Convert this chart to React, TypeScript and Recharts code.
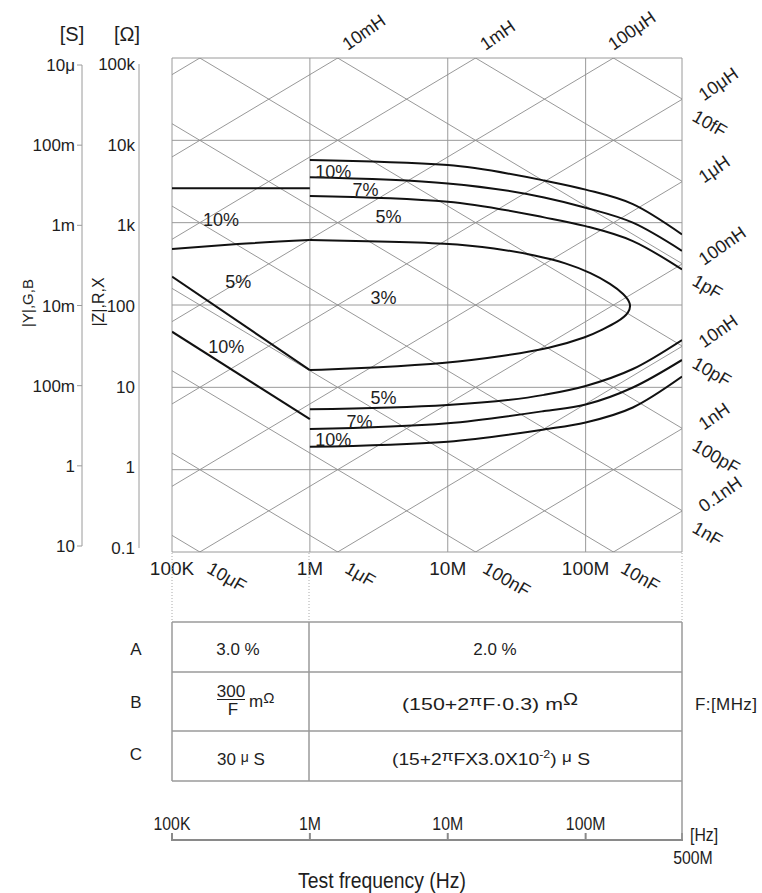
import React from "react";
import {
  ComposedChart,
  LineChart,
  Line,
  XAxis,
  YAxis,
  CartesianGrid,
  ReferenceDot,
} from "recharts";

// ---- axes ----
const freqTicks = [1e5, 1e6, 1e7, 1e8, 5e8];
const freqTickLabels = ["100K", "1M", "10M", "100M", ""];
const ohmTicks = [0.1, 1, 10, 100, 1e3, 1e4, 1e5];
const ohmTickLabels = ["0.1", "1", "10", "100", "1k", "10k", "100k"];
const siemensTickLabels = ["10", "1", "100m", "10m", "1m", "100m", "10\u03bc"];

// ---- L / C guide lines ----
const inductances = [1e-10, 1e-9, 1e-8, 1e-7, 1e-6, 1e-5, 1e-4, 1e-3, 1e-2, 1e-1];
const capacitances = [1e-14, 1e-13, 1e-12, 1e-11, 1e-10, 1e-9, 1e-8, 1e-7, 1e-6, 1e-5];
const topInductorValues = [1e-2, 1e-3, 1e-4];
const topInductorLabels = ["10mH", "1mH", "100\u03bcH"];
const rightInductorValues = [1e-5, 1e-6, 1e-7, 1e-8, 1e-9, 1e-10];
const rightInductorLabels = ["10\u03bcH", "1\u03bcH", "100nH", "10nH", "1nH", "0.1nH"];
const rightCapacitorValues = [1e-14, 1e-12, 1e-11, 1e-10, 1e-9];
const rightCapacitorLabels = ["10fF", "1pF", "10pF", "100pF", "1nF"];
const bottomCapacitorValues = [1e-5, 1e-6, 1e-7, 1e-8];
const bottomCapacitorLabels = ["10\u03bcF", "1\u03bcF", "100nF", "10nF"];

// ---- accuracy contours ----
const rightFreqs = [1e6, 1e7, 5e7, 1e8, 2.2e8, 5e8];
const upper10 = [5770, 5000, 3250, 2520, 1680, 720];
const upper7 = [3560, 3000, 2020, 1520, 1000, 455];
const upper5 = [2110, 1800, 1160, 908, 598, 270];
const lower5 = [5.4, 6.1, 8.1, 10.4, 16.7, 37.6];
const lower7 = [3.12, 3.66, 5.15, 6.18, 9.95, 21.5];
const lower10 = [1.9, 2.19, 3.08, 3.74, 5.69, 13.5];

const loop3F = [1e6, 3.15e6, 1e7, 2.2e7, 4.4e7, 7.2e7, 1.1e8, 1.53e8, 1.9e8, 2.14e8, 2.07e8, 1.72e8, 1.3e8, 1.04e8, 5.6e7, 2.4e7, 1e7, 3.15e6, 1e6];
const loop3Z = [615, 590, 561, 492, 399, 324, 245, 180, 136, 104, 80, 62.7, 49.7, 41.2, 29.8, 23.7, 19.6, 17.4, 16.2];

const leftTop10F = [1e5, 1e6];
const leftTop10Z = [2610, 2610];
const leftTop5F = [1e5, 3e5, 1e6];
const leftTop5Z = [480, 550, 615];
const leftLow5F = [1e5, 1e6];
const leftLow5Z = [221, 16.2];
const leftLow10F = [1e5, 1e6];
const leftLow10Z = [47.4, 4.1];

// ---- region labels ----
const pctText = ["10%", "7%", "5%", "10%", "5%", "10%", "3%", "5%", "7%", "10%"];
const pctF = [1.48e6, 2.53e6, 3.72e6, 2.27e5, 3.02e5, 2.47e5, 3.42e6, 3.42e6, 2.29e6, 1.48e6];
const pctZ = [4120, 2490, 1170, 1080, 190, 30.9, 122, 7.4, 3.79, 2.29];

const F_MIN = 1e5;
const F_MAX = 5e8;
const Z_MIN = 0.1;
const Z_MAX = 1e5;
const TWO_PI = 2 * Math.PI;

const FONT = "'Liberation Sans', Arial, sans-serif";
const INK = "#1e1e1e";
const GRID = "#9a9a9a";

const pts = (fs: number[], zs: number[]) => fs.map((f, i) => ({ f, z: zs[i] }));
const ohmRows = ohmTicks.map((z) => ({ f: F_MIN, z }));
const freqRows = freqTicks.map((f) => ({ f, z: 1 }));

const inductorGuides = inductances.map((L) => [
  { f: F_MIN, z: TWO_PI * F_MIN * L },
  { f: F_MAX, z: TWO_PI * F_MAX * L },
]);
const capacitorGuides = capacitances.map((C) => [
  { f: F_MIN, z: 1 / (TWO_PI * F_MIN * C) },
  { f: F_MAX, z: 1 / (TWO_PI * F_MAX * C) },
]);

const contours: { data: { f: number; z: number }[]; type: any }[] = [
  { data: pts(rightFreqs, upper10), type: "monotone" },
  { data: pts(rightFreqs, upper7), type: "monotone" },
  { data: pts(rightFreqs, upper5), type: "monotone" },
  { data: pts(rightFreqs, lower5), type: "monotone" },
  { data: pts(rightFreqs, lower7), type: "monotone" },
  { data: pts(rightFreqs, lower10), type: "monotone" },
  { data: pts(loop3F, loop3Z), type: "basis" },
  { data: pts(leftTop10F, leftTop10Z), type: "linear" },
  { data: pts(leftTop5F, leftTop5Z), type: "monotone" },
  { data: pts(leftLow5F, leftLow5Z), type: "linear" },
  { data: pts(leftLow10F, leftLow10Z), type: "linear" },
];

const edgeLabel = (text: string, dx: number, dy: number, angle: number) => (p: any) => {
  const x = p.cx + dx;
  const y = p.cy + dy;
  return (
    <text x={x} y={y} transform={`rotate(${angle} ${x} ${y})`} fontSize={18} fontFamily={FONT} fill={INK} textAnchor="start">
      {text}
    </text>
  );
};

const centerLabel = (text: string) => (p: any) => (
  <text x={p.cx} y={p.cy} fontSize={18} fontFamily={FONT} fill={INK} textAnchor="middle" dominantBaseline="central">
    {text}
  </text>
);

// tick of the lower frequency scale: short mark pointing up + condensed label
const ScaleTick = (p: any) => {
  const label = freqTickLabels[freqTicks.indexOf(p.payload.value)];
  return (
    <g>
      <line x1={p.x} x2={p.x} y1={p.y + 3} y2={p.y + 10} stroke="#8a8a8a" strokeWidth={2} />
      <g transform={`translate(${p.x},${p.y}) scale(0.88,1)`}>
        <text x={0} y={0} textAnchor="middle" fontSize={18} fontFamily={FONT} fill={INK}>
          {label}
        </text>
      </g>
    </g>
  );
};

const Narrow = ({ x, y, size, anchor = "middle", children }: any) => (
  <g transform={`translate(${x},${y}) scale(0.88,1)`}>
    <text x={0} y={0} textAnchor={anchor} fontSize={size} fontFamily={FONT} fill={INK}>
      {children}
    </text>
  </g>
);

function Overlay() {
  const t = { fontFamily: FONT, fill: INK } as const;
  return (
    <svg width={762} height={893} style={{ position: "absolute", left: 0, top: 0, pointerEvents: "none" }}>
      {/* axis titles */}
      <text x={72} y={34} fontSize={20} textAnchor="middle" dominantBaseline="central" {...t}>[S]</text>
      <text x={127} y={34} fontSize={20} textAnchor="middle" dominantBaseline="central" {...t}>[Ω]</text>
      <text x={27} y={303} fontSize={15} textAnchor="middle" dominantBaseline="central" transform="rotate(-90 27 303)" {...t}>|Y|,G,B</text>
      <text x={98} y={302} fontSize={16} textAnchor="middle" dominantBaseline="central" transform="rotate(-90 98 302)" {...t}>|Z|,R,X</text>

      {/* dotted connectors */}
      {[172, 309, 682].map((x) => (
        <line key={x} x1={x} x2={x} y1={553} y2={621} stroke="#aaa" strokeDasharray="1 2" />
      ))}

      {/* table */}
      <g stroke={GRID} strokeWidth={1.5}>
        {[622, 672, 731, 781].map((y) => (
          <line key={y} x1={172} x2={682} y1={y} y2={y} />
        ))}
        <line x1={172} x2={172} y1={622} y2={781} />
        <line x1={309} x2={309} y1={622} y2={781} />
        <line x1={682} x2={682} y1={622} y2={841} />
      </g>
      {/* baseline of the lower frequency scale */}
      <rect x={171} y={839} width={512} height={2} fill="#8a8a8a" />
      <g fontSize={17} textAnchor="middle" dominantBaseline="central" {...t}>
        <text x={136} y={649}>A</text>
        <text x={136} y={702}>B</text>
        <text x={136} y={754}>C</text>
        <text x={238} y={649}>3.0 %</text>
        <text x={495} y={649}>2.0 %</text>
        <text x={231} y={691}>300</text>
        <text x={233} y={709}>F</text>
        <text x={726} y={704} textLength={62}>F:[MHz]</text>
      </g>
      <line x1={217} x2={245} y1={699.5} y2={699.5} stroke={INK} strokeWidth={1} />
      <text x={249} y={707} fontSize={17} {...t}>
        m<tspan fontSize={15} dy={-4}>Ω</tspan>
      </text>
      <text x={217} y={765} fontSize={17} {...t}>
        30 <tspan fontSize={14} dy={-3}>μ</tspan><tspan dy={3}> S</tspan>
      </text>
      <text x={402} y={710} fontSize={17} textLength={176} lengthAdjust="spacingAndGlyphs" {...t}>
        (150+2<tspan fontSize={15} dy={-4}>π</tspan><tspan dy={4}>F·0.3) m</tspan><tspan fontSize={16} dy={-5}>Ω</tspan>
      </text>
      <text x={392} y={765} fontSize={17} textLength={198} lengthAdjust="spacingAndGlyphs" {...t}>
        (15+2<tspan fontSize={15} dy={-4}>π</tspan><tspan dy={4}>FX3.0X10</tspan><tspan fontSize={11} dy={-7}>-2</tspan><tspan dy={7}>) </tspan><tspan fontSize={15} dy={-3}>μ</tspan><tspan dy={3}> S</tspan>
      </text>

      {/* bottom axis extras */}
      <Narrow x={690} y={841} size={18} anchor="start">[Hz]</Narrow>
      <Narrow x={693} y={864} size={18}>500M</Narrow>
      <Narrow x={382} y={888} size={22}>Test frequency (Hz)</Narrow>
    </svg>
  );
}

export default function App() {
  return (
    <div style={{ position: "absolute", left: 0, top: 0, width: 762, height: 893, background: "#fff" }}>
      {/* [S] axis */}
      <div style={{ position: "absolute", left: 0, top: 0 }}>
        <LineChart width={85} height={600} data={ohmRows} margin={{ top: 65, right: 1, bottom: 54, left: 0 }}>
          <XAxis hide dataKey="f" type="number" scale="log" domain={[F_MIN, F_MAX]} />
          <YAxis
            dataKey="z"
            type="number"
            scale="log"
            domain={[Z_MIN, Z_MAX]}
            ticks={ohmTicks}
            interval={0}
            width={82}
            stroke={GRID}
            tickSize={5}
            tickMargin={2}
            tickFormatter={(v: number) => siemensTickLabels[ohmTicks.indexOf(v)]}
            tick={{ fontSize: 17, fill: INK, fontFamily: FONT }}
          />
          <Line dataKey="z" stroke="none" dot={false} activeDot={false} isAnimationActive={false} />
        </LineChart>
      </div>
      {/* [Ω] axis */}
      <div style={{ position: "absolute", left: 0, top: 0 }}>
        <LineChart width={142} height={600} data={ohmRows} margin={{ top: 64, right: 1, bottom: 52, left: 0 }}>
          <XAxis hide dataKey="f" type="number" scale="log" domain={[F_MIN, F_MAX]} />
          <YAxis
            dataKey="z"
            type="number"
            scale="log"
            domain={[Z_MIN, Z_MAX]}
            ticks={ohmTicks}
            interval={0}
            width={139}
            stroke={GRID}
            tickLine={false}
            tickSize={0}
            tickMargin={4}
            tickFormatter={(v: number) => ohmTickLabels[ohmTicks.indexOf(v)]}
            tick={{ fontSize: 17, fill: INK, fontFamily: FONT }}
          />
          <Line dataKey="z" stroke="none" dot={false} activeDot={false} isAnimationActive={false} />
        </LineChart>
      </div>
      {/* main chart */}
      <div style={{ position: "absolute", left: 0, top: 0 }}>
        <ComposedChart width={762} height={600} margin={{ top: 58, right: 80, bottom: 18, left: 172 }}>
          <CartesianGrid stroke={GRID} strokeWidth={1} />
          <XAxis
            dataKey="f"
            type="number"
            scale="log"
            domain={[F_MIN, F_MAX]}
            allowDataOverflow
            ticks={freqTicks}
            interval={0}
            height={30}
            axisLine={false}
            tickLine={false}
            tickSize={0}
            tickMargin={10}
            tickFormatter={(v: number) => freqTickLabels[freqTicks.indexOf(v)]}
            tick={{ fontSize: 19, fill: INK, fontFamily: FONT }}
          />
          <YAxis hide dataKey="z" type="number" scale="log" domain={[Z_MIN, Z_MAX]} allowDataOverflow ticks={ohmTicks} />
          {inductorGuides.map((d, i) => (
            <Line key={`L${i}`} data={d} dataKey="z" type="linear" stroke="#8c8c8c" strokeWidth={0.9} dot={false} activeDot={false} isAnimationActive={false} />
          ))}
          {capacitorGuides.map((d, i) => (
            <Line key={`C${i}`} data={d} dataKey="z" type="linear" stroke="#8c8c8c" strokeWidth={0.9} dot={false} activeDot={false} isAnimationActive={false} />
          ))}
          {contours.map((c, i) => (
            <Line key={`K${i}`} data={c.data} dataKey="z" type={c.type} stroke="#111" strokeWidth={2} dot={false} activeDot={false} isAnimationActive={false} />
          ))}
          {pctText.map((s, i) => (
            <ReferenceDot key={`P${i}`} x={pctF[i]} y={pctZ[i]} r={0} shape={centerLabel(s)} />
          ))}
          {topInductorValues.map((L, i) => (
            <ReferenceDot key={`TL${i}`} x={Z_MAX / (TWO_PI * L)} y={Z_MAX} r={0} ifOverflow="visible" shape={edgeLabel(topInductorLabels[i], i === 2 ? 0 : 10, -7, -35)} />
          ))}
          {rightInductorValues.map((L, i) => (
            <ReferenceDot key={`RL${i}`} x={F_MAX} y={TWO_PI * F_MAX * L} r={0} ifOverflow="visible" shape={edgeLabel(rightInductorLabels[i], 22, 2, -35)} />
          ))}
          {rightCapacitorValues.map((C, i) => (
            <ReferenceDot key={`RC${i}`} x={F_MAX} y={1 / (TWO_PI * F_MAX * C)} r={0} ifOverflow="visible" shape={edgeLabel(rightCapacitorLabels[i], 9, 21, 30)} />
          ))}
          {bottomCapacitorValues.map((C, i) => (
            <ReferenceDot key={`BC${i}`} x={1 / (TWO_PI * C * Z_MIN)} y={Z_MIN} r={0} ifOverflow="visible" shape={edgeLabel(bottomCapacitorLabels[i], 6, 20, 30)} />
          ))}
        </ComposedChart>
      </div>
      {/* frequency scale under the table */}
      <div style={{ position: "absolute", left: 0, top: 790 }}>
        <LineChart width={762} height={80} data={freqRows} margin={{ top: 0, right: 80, bottom: 30, left: 172 }}>
          <XAxis
            dataKey="f"
            orientation="bottom"
            mirror
            type="number"
            scale="log"
            domain={[F_MIN, F_MAX]}
            ticks={freqTicks}
            interval={0}
            height={30}
            axisLine={false}
            tickLine={false}
            tickSize={7}
            tickMargin={3}
            tick={<ScaleTick />}
          />
          <YAxis hide dataKey="z" />
          <Line dataKey="z" stroke="none" dot={false} activeDot={false} isAnimationActive={false} />
        </LineChart>
      </div>
      <Overlay />
    </div>
  );
}
